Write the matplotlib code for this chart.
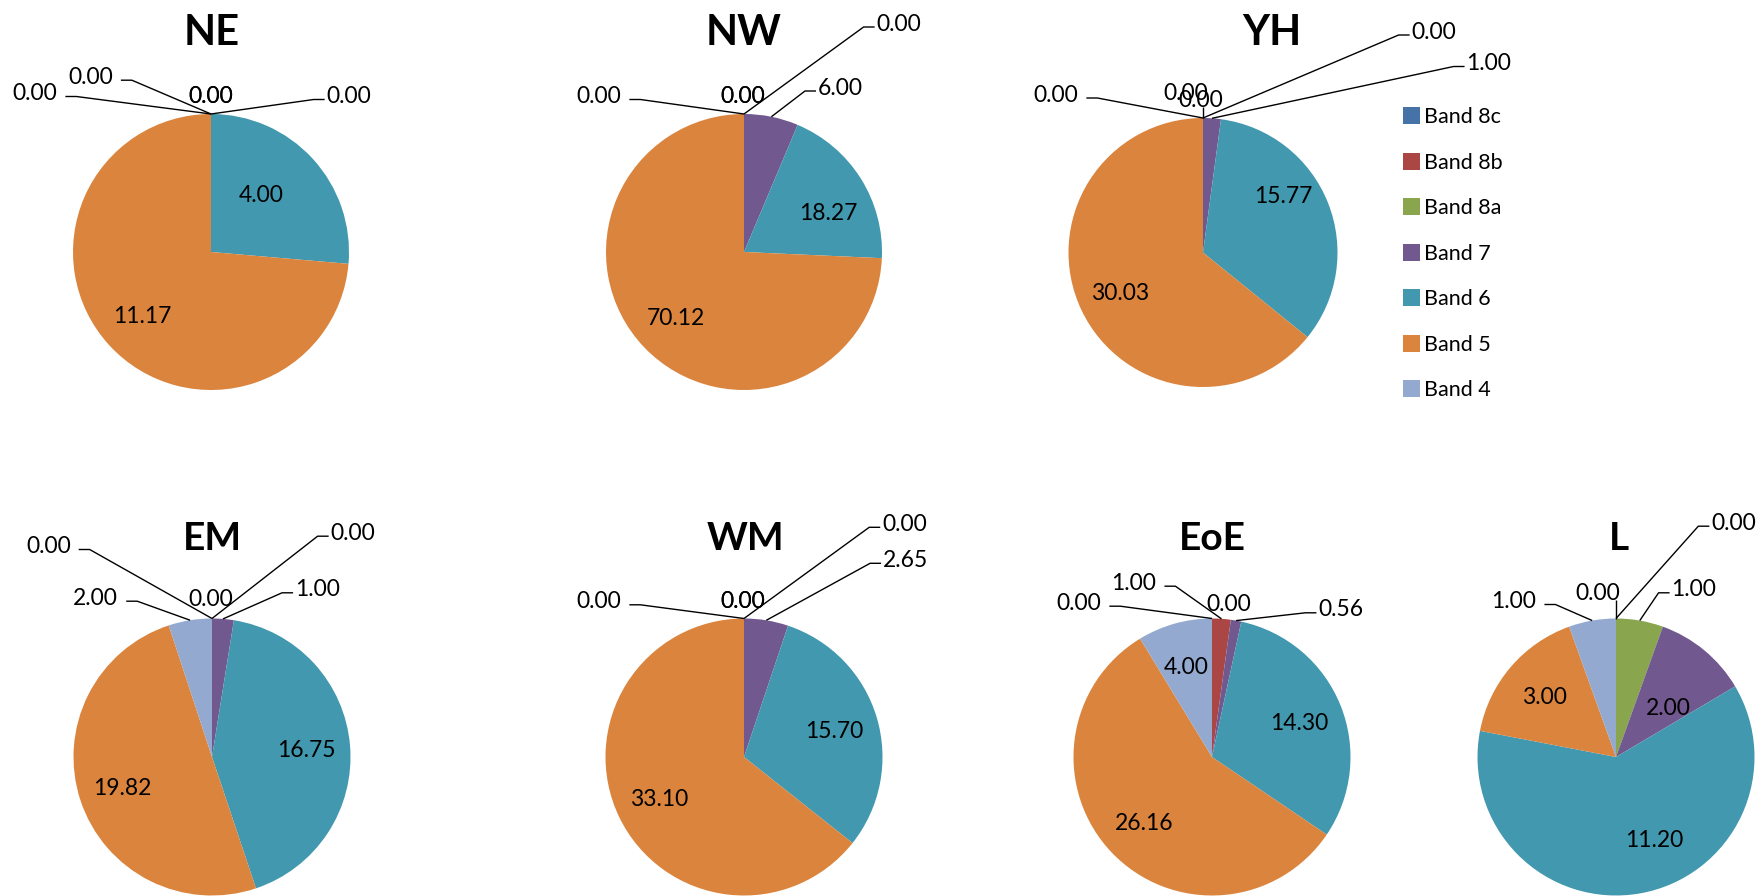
import matplotlib
matplotlib.use("Agg")
import matplotlib.pyplot as plt
import numpy as np
from matplotlib.patches import Rectangle

plt.rcParams['font.family'] = ['Lato', 'DejaVu Sans']

# ---- data -------------------------------------------------------------
BANDS = ["Band 8c", "Band 8b", "Band 8a", "Band 7", "Band 6", "Band 5", "Band 4"]
COLORS = ["#4572A7", "#AA4643", "#89A54E", "#71588F", "#4198AF", "#DB843D", "#93A9CF"]

REGIONS = ["NE", "NW", "YH", "EM", "WM", "EoE", "L"]
NE = [0.00, 0.00, 0.00, 0.00, 4.00, 11.17, 0.00]
NW = [0.00, 0.00, 0.00, 6.00, 18.27, 70.12, 0.00]
YH = [0.00, 0.00, 0.00, 1.00, 15.77, 30.03, 0.00]
EM = [0.00, 0.00, 0.00, 1.00, 16.75, 19.82, 2.00]
WM = [0.00, 0.00, 0.00, 2.65, 15.70, 33.10, 0.00]
EOE = [0.00, 1.00, 0.00, 0.56, 14.30, 26.16, 4.00]
LON = [0.00, 0.00, 1.00, 2.00, 11.20, 3.00, 1.00]
SERIES = [NE, NW, YH, EM, WM, EOE, LON]

# ---- layout (pixel units, y measured downward from the top) -----------
W, H = 1762, 896
PIES = {
    "NE":  dict(c=(211, 252), r=138, title=(212, 45), tsize=30),
    "NW":  dict(c=(744, 252), r=138, title=(744, 45), tsize=30),
    "YH":  dict(c=(1203, 252.5), r=134.5, title=(1272, 45), tsize=30),
    "EM":  dict(c=(212, 757), r=138.5, title=(212, 550), tsize=28),
    "WM":  dict(c=(744, 757), r=138.5, title=(745, 550), tsize=28),
    "EoE": dict(c=(1212, 757), r=138.5, title=(1212, 550), tsize=28),
    "L":   dict(c=(1616, 757), r=138.5, title=(1619, 550), tsize=28),
}

# label placement per slice: 'in' = inside the wedge at its mid-angle,
# ('in', dx, dy) = inside at a given offset from the pie centre, otherwise the
# offset of the text centre plus the leader style
# (L = text left of its leader, R = text right of its leader,
#  V = short vertical leader, N = no leader)
LABELS = {
    "NE":  [(-0.5, -157, 'N'), (138, -157, 'R'), (-0.5, -157, 'N'), (-120.5, -176.3, 'L'),
            ('in', 50, -58), 'in', (-176, -160, 'L')],
    "NW":  [(-1.5, -157, 'N'), (-1.5, -157, 'N'), (155, -229.5, 'R'), (96.5, -165.5, 'R'),
            ('in', 84, -40), 'in', (-145, -157, 'L')],
    "YH":  [(-2.5, -154, 'V'), (-17, -160.5, 'N'), (231, -222, 'R'), (286, -190.5, 'R'),
            ('in', 80, -58), 'in', (-147, -159, 'L')],
    "EM":  [(-1.2, -158.7, 'N'), (141, -225.3, 'R'), (-163.7, -212, 'L'), (105.5, -168.7, 'R'),
            'in', 'in', (-116.2, -160.3, 'L')],
    "WM":  [(-1.5, -156.7, 'N'), (-1.5, -156.7, 'N'), (160.6, -234.2, 'R'), (161.7, -198.2, 'R'),
            'in', 'in', (-145, -156.7, 'L')],
    "EoE": [(-133, -155.3, 'L'), (-78, -175.3, 'L'), (17, -153.7, 'N'), (129, -148.7, 'R'),
            'in', 'in', 'in'],
    "L":   [(-18.5, -165.3, 'V'), (117.7, -235.3, 'R'), (78, -168.7, 'R'), ('in', 52, -50),
            ('in', 38, 82), 'in', (-102, -157, 'L')],
}

LABEL_SIZE = 16.5
INSIDE_R = 0.68


def Y(y):
    return H - y


def fix_limits(a):
    a.set_xlim(0, W)
    a.set_ylim(0, H)
    a.set_aspect('equal')


fig = plt.figure(figsize=(W / 100, H / 100), dpi=100)
ax = fig.add_axes([0, 0, 1, 1])
ax.axis('off')
fix_limits(ax)
renderer = fig.canvas.get_renderer()

for name, vals in zip(REGIONS, SERIES):
    spec = PIES[name]
    cx, cy = spec["c"]
    R = spec["r"]
    ax.pie(vals, colors=COLORS, startangle=90, counterclock=False,
           center=(cx, Y(cy)), radius=R, frame=True,
           wedgeprops=dict(linewidth=0))
    fix_limits(ax)

    tx, ty = spec["title"]
    ax.text(tx, Y(ty), name, ha='center', va='baseline',
            fontsize=spec["tsize"], fontweight='bold', color='black')

    total = float(sum(vals))
    start = 0.0
    for v, lab in zip(vals, LABELS[name]):
        mid = np.radians(360.0 * (start + v / 2.0) / total)
        start += v
        text = f"{v:.2f}"
        ax_, ay_ = cx + R * np.sin(mid), cy - R * np.cos(mid)
        if lab == 'in' or lab[0] == 'in':
            if lab == 'in':
                lx = cx + INSIDE_R * R * np.sin(mid)
                ly = cy - INSIDE_R * R * np.cos(mid)
            else:
                lx, ly = cx + lab[1], cy + lab[2]
            ax.text(lx, Y(ly + 8), text, ha='center', va='baseline',
                    fontsize=LABEL_SIZE, color='black')
            continue
        dx, dy, kind = lab
        lx, ly = cx + dx, cy + dy
        t = ax.text(lx, Y(ly + 8), text, ha='center', va='baseline',
                    fontsize=LABEL_SIZE, color='black')
        bb = t.get_window_extent(renderer)
        x0, x1 = ax.transData.inverted().transform([[bb.x0, 0], [bb.x1, 0]])[:, 0]
        hy = ly + 4.5
        if kind == 'L':
            xs = x1 + 8
            pts = [(xs, hy), (xs + 11, hy), (ax_, ay_)]
        elif kind == 'R':
            xe = x0 - 2
            pts = [(ax_, ay_), (xe - 11, hy), (xe, hy)]
        elif kind == 'V':
            pts = [(ax_, ay_), (ax_, ly + 8.5)]
        else:
            pts = []
        if pts:
            px = [p[0] for p in pts]
            py = [Y(p[1]) for p in pts]
            ax.plot(px, py, color='black', lw=1.0, solid_capstyle='butt', zorder=5)

# legend
LEG_X, LEG_Y0, LEG_STEP, LEG_BOX = 1402.7, 115.7, 45.5, 17
for i, (band, col) in enumerate(zip(BANDS, COLORS)):
    yc = LEG_Y0 + i * LEG_STEP
    ax.add_patch(Rectangle((LEG_X, Y(yc + LEG_BOX / 2)), LEG_BOX, LEG_BOX,
                           facecolor=col, edgecolor='none'))
    ax.text(LEG_X + LEG_BOX + 4.3, Y(yc + 7.7), band, ha='left', va='baseline',
            fontsize=15.5, color='black')

fix_limits(ax)
ax.axis('off')
fig.savefig("out.png", dpi=100, facecolor='white')
